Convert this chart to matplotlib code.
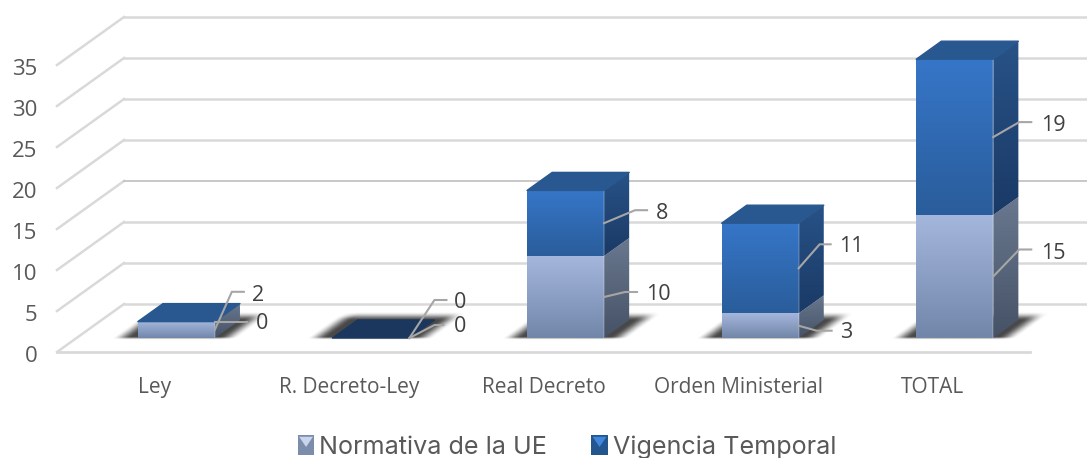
import numpy as np
import matplotlib
matplotlib.use('Agg')
import matplotlib.pyplot as plt
from matplotlib.colors import to_rgb
from matplotlib.legend_handler import HandlerBase
from matplotlib.patches import Patch, Polygon
from matplotlib.transforms import ScaledTranslation

categories = ['Ley', 'R. Decreto-Ley', 'Real Decreto', 'Orden Ministerial', 'TOTAL']
normativa_ue = [2, 0, 10, 3, 15]
vigencia_temporal = [0, 0, 8, 11, 19]
y_ticks = [0, 5, 10, 15, 20, 25, 30, 35]
series_names = ['Normativa de la UE', 'Vigencia Temporal']

# leader layout in pixels from the bar edge: elbow dx, elbow dy, end dx, text dx, text dy
normativa_leaders = [(17, 38, 29, 43, 34), (25, 38, 37, 51, 35), (21, 5, 33, 54, 3),
                     (18, -5, 33, 48, -7), (26, 27, 38, 60, 23)]
vigencia_leaders = [(17, 0, 32, 47, -2), (25, 13, 34, 51, 11), (31, 13, 43, 58, 10),
                    (21, 24, 32, 53, 22), (26, 15, 38, 60, 12)]

# colours: (top, bottom) of each gradient
NORM_FRONT = ('#a4b6dc', '#7286aa')
NORM_SIDE = ('#69788f', '#465266')
VIG_FRONT = ('#3676c8', '#2a5d9b')
VIG_SIDE = ('#285287', '#1a3a66')
TOP_COL = '#28588f'
TOP_EMPTY = '#1b375e'
GRID = '#d9d9d9'

PX_X = 973 / 5   # pixels per category
PX_Y = 8.2       # pixels per unit of value
DEPTH_X = 67 / PX_X
DEPTH_Y = 48 / PX_Y
BAR_W = 77 / PX_X
BAR_SHIFT = 2.5 / PX_X
BAR_D0 = 14 / 48
BAR_D1 = 32 / 48

fig = plt.figure(figsize=(10.87, 4.58), dpi=100)
ax = fig.add_axes([57 / 1087, 106 / 458, 973 / 1087, 287 / 458])
ax.patch.set_alpha(0)


def project(x, v, d):
    return x + d * DEPTH_X, v + d * DEPTH_Y


def gradient_face(pts, colors, zorder):
    xs, ys = zip(*pts)
    c0, c1 = np.array(to_rgb(colors[0])), np.array(to_rgb(colors[1]))
    t = np.linspace(0, 1, 64)[:, None, None]
    im = ax.imshow(c0 * (1 - t) + c1 * t, extent=[min(xs), max(xs), min(ys), max(ys)],
                   origin='upper', aspect='auto', interpolation='bilinear', zorder=zorder)
    im.set_clip_path(Polygon(pts, transform=ax.transData))
    im.set_clip_box(fig.bbox)


def draw_segment(x0, x1, v0, v1, front, side, zorder):
    gradient_face([project(x1, v0, BAR_D0), project(x1, v0, BAR_D1),
                   project(x1, v1, BAR_D1), project(x1, v1, BAR_D0)], side, zorder)
    gradient_face([project(x0, v0, BAR_D0), project(x1, v0, BAR_D0),
                   project(x1, v1, BAR_D0), project(x0, v1, BAR_D0)], front, zorder + 0.1)
    ex, ey = zip(project(x1, v0, BAR_D0), project(x1, v1, BAR_D0))
    ax.plot(ex, ey, color='white', alpha=0.18, lw=1.2, zorder=zorder + 0.2, clip_on=False)


def soft(dist, width):
    t = np.clip(dist / width, 0, 1)
    return t * t * (3 - 2 * t)


def draw_shadow(x0, x1, zorder):
    # soft floor shadow as an alpha image laid over the floor plane
    x_lo, x_hi = x0 - 30 / PX_X, x1 + 80 / PX_X
    v_lo, v_hi = 0, 6
    X, V = np.meshgrid(np.linspace(x_lo, x_hi, 200), np.linspace(v_hi, v_lo, 60))
    d = V / DEPTH_Y
    u = X - d * DEPTH_X
    a = (soft((u - x0) * PX_X + 26, 20) * soft((x1 - u) * PX_X + 24, 20)
         * soft((d - BAR_D0) * 48 + 2, 3) * soft((BAR_D1 - d) * 48 + 8, 9))
    rgba = np.zeros(a.shape + (4,))
    rgba[..., 3] = a * 0.72
    im = ax.imshow(rgba, extent=[x_lo, x_hi, v_lo, v_hi], origin='upper', aspect='auto',
                   interpolation='bilinear', zorder=zorder)
    im.set_clip_box(fig.bbox)


def draw_leader(x_edge, v, layout, value):
    ex, ey, end, tx, ty = layout
    base_x, base_y = project(x_edge, v, BAR_D0)
    xs = [base_x, base_x + ex / PX_X, base_x + end / PX_X]
    ys = [base_y, base_y + ey / PX_Y, base_y + ey / PX_Y]
    ax.plot(xs, ys, color='#a6a6a6', lw=1.5, zorder=20, clip_on=False)
    ax.text(base_x + tx / PX_X, base_y + ty / PX_Y, str(value), ha='center', va='center',
            fontsize=15.5, color='#404040', family='Open Sans', zorder=21, clip_on=False)


# floor and back wall
for v in y_ticks:
    ax.plot([project(-0.5, v, 0)[0], project(-0.5, v, 1)[0]],
            [project(-0.5, v, 0)[1], project(-0.5, v, 1)[1]],
            color=GRID, lw=1.8, zorder=1, clip_on=False)
    ax.plot([project(-0.5, v, 1)[0], project(4.5, v, 1)[0]],
            [project(-0.5, v, 1)[1], project(4.5, v, 1)[1]],
            color='#bfbfbf' if v == 15 else GRID, lw=1.2 if v == 15 else 1.8, zorder=1, clip_on=False)
ax.plot([-0.5, 4.5], [0, 0], color=GRID, lw=2, zorder=1, clip_on=False)

for i, name in enumerate(categories):
    n, g = normativa_ue[i], vigencia_temporal[i]
    x0, x1 = i + BAR_SHIFT - BAR_W / 2, i + BAR_SHIFT + BAR_W / 2
    z = 3 + i
    draw_shadow(x0, x1, 2)
    if n:
        draw_segment(x0, x1, 0, n, NORM_FRONT, NORM_SIDE, z)
    if g:
        draw_segment(x0, x1, n, n + g, VIG_FRONT, VIG_SIDE, z + 0.3)
    top = n + g
    ax.add_patch(Polygon([project(x0, top, BAR_D0), project(x1, top, BAR_D0),
                          project(x1, top, BAR_D1), project(x0, top, BAR_D1)], closed=True,
                         fc=TOP_COL if top else TOP_EMPTY, ec=TOP_COL if top else TOP_EMPTY,
                         lw=1, joinstyle='round', zorder=z + 0.6, clip_on=False))
    draw_leader(x1, n / 2, normativa_leaders[i], n)
    draw_leader(x1, n + g / 2, vigencia_leaders[i], g)

ax.set_xlim(-0.5, 4.5)
ax.set_ylim(0, 35)
ax.set_xticks(range(len(categories)), categories, family='Open Sans', fontsize=15, color='#595959')
ax.set_yticks(y_ticks, [str(v) for v in y_ticks], family='Open Sans', fontsize=16, color='#595959')
ax.tick_params(axis='x', length=0, pad=18)
ax.tick_params(axis='y', length=0, pad=14)
shift_down = ScaledTranslation(0, -2 / 100, fig.dpi_scale_trans)
for lab in ax.get_yticklabels():
    lab.set_verticalalignment('center_baseline')
    lab.set_transform(lab.get_transform() + shift_down)
for s in ax.spines.values():
    s.set_visible(False)


class BevelSwatch(HandlerBase):
    # square key with the lighter wedge on top
    def create_artists(self, legend, orig, xd, yd, w, h, fontsize, trans):
        main, light = orig.get_facecolor(), orig.get_edgecolor()
        x, y = -xd, -yd
        box = Polygon([(x, y), (x + w, y), (x + w, y + h), (x, y + h)], closed=True,
                      fc=main, ec='none', transform=trans)
        wedge = Polygon([(x + 1, y + h - 1), (x + w - 1, y + h - 1), (x + w / 2, y + h * 0.4)],
                        closed=True, fc=light, ec='none', transform=trans)
        return [box, wedge]


handles = [Patch(facecolor='#7c8dab', edgecolor='#c9d5ec'), Patch(facecolor='#23558f', edgecolor='#3f86dc')]
leg = fig.legend(handles, series_names, handler_map={Patch: BevelSwatch()}, loc='center',
                 bbox_to_anchor=(567 / 1087, 11 / 458), ncol=2, frameon=False,
                 prop={'family': 'Inter', 'size': 18.1}, handlelength=0.66, handleheight=0.8,
                 handletextpad=0.2, columnspacing=1.75, labelcolor='#595959')

fig.savefig('out.png', dpi=100)
